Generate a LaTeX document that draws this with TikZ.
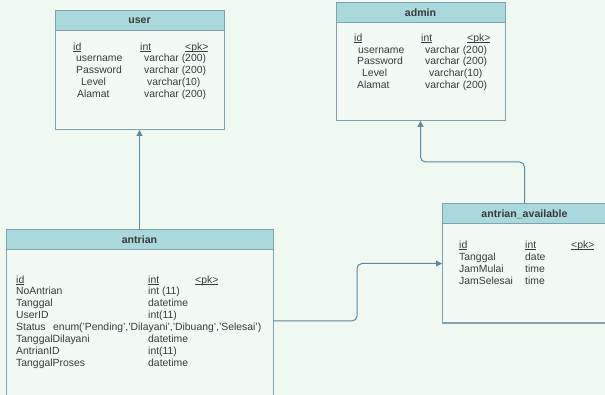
\documentclass[tikz,border=0pt]{standalone}
\usepackage{fontspec}
\setmainfont{Liberation Sans}
\usetikzlibrary{arrows.meta}
\definecolor{bg}{HTML}{EFF8F1}
\definecolor{headfill}{HTML}{A9D9DC}
\definecolor{bodyfill}{HTML}{F3FAF5}
\definecolor{edgecol}{HTML}{7FA2AC}
\definecolor{linkcol}{HTML}{5A8AA2}
\definecolor{ink}{HTML}{3A3A3A}
% key underline drawn close to the baseline
\newcommand{\keyul}[1]{{\setbox0\hbox{#1}\rlap{\rule[-1.3pt]{\wd0}{0.5pt}}\box0}}
\begin{document}
\begin{tikzpicture}[x=1pt,y=-1pt,
  entity/.style={draw=edgecol, fill=bodyfill, line width=1pt, anchor=north west,
    inner sep=0pt, outer sep=0pt},
  head/.style={draw=edgecol, fill=headfill, line width=1pt, anchor=north west,
    inner sep=0pt, outer sep=0pt, minimum height=20pt,
    font=\fontsize{10.6}{12}\selectfont\bfseries, text=ink},
  fld/.style={anchor=base west, inner sep=0pt, font=\fontsize{10.4}{12}\selectfont, text=ink},
  rel/.style={draw=linkcol, line width=1pt, rounded corners=5pt,
    -{Triangle[length=6pt,width=6pt]}}]
\useasboundingbox (0,0) rectangle (605,395);
\fill[bg] (0,0) rectangle (605,395);
\clip (0,0) rectangle (605,395);

% ---------- user ----------
\node[entity, minimum width=169pt, minimum height=119pt] (user) at (55,11) {};
\node[head, minimum width=169pt] (userH) at (55,11) {user};
\node[fld] (u1a) at (73,50.5) {\keyul{id}};
\node[fld] (u1b) at (140,50.5) {\keyul{int}};
\node[fld] (u1c) at (185,50.5) {\keyul{<pk>}};
\node[fld] (u2a) at (76,61.5) {username};
\node[fld] (u2b) at (144,61.5) {varchar (200)};
\node[fld] (u3a) at (76,73.5) {Password};
\node[fld] (u3b) at (144,73.5) {varchar (200)};
\node[fld] (u4a) at (81,85.5) {Level};
\node[fld] (u4b) at (147,85.5) {varchar(10)};
\node[fld] (u5a) at (77,97.5) {Alamat};
\node[fld] (u5b) at (144,97.5) {varchar (200)};

% ---------- admin ----------
\node[entity, minimum width=169pt, minimum height=118pt] (admin) at (336,3) {};
\node[head, minimum width=169pt] (adminH) at (336,3) {admin};
\node[fld] (a1a) at (354,41.5) {\keyul{id}};
\node[fld] (a1b) at (421,41.5) {\keyul{int}};
\node[fld] (a1c) at (467,41.5) {\keyul{<pk>}};
\node[fld] (a2a) at (358,53.5) {username};
\node[fld] (a2b) at (425,53.5) {varchar (200)};
\node[fld] (a3a) at (357,64.5) {Password};
\node[fld] (a3b) at (425,64.5) {varchar (200)};
\node[fld] (a4a) at (362,76.5) {Level};
\node[fld] (a4b) at (429,76.5) {varchar(10)};
\node[fld] (a5a) at (357,88.5) {Alamat};
\node[fld] (a5b) at (425,88.5) {varchar (200)};

% ---------- antrian ----------
\node[entity, minimum width=267pt, minimum height=182pt] (antrian) at (6,230) {};
\node[head, minimum width=267pt] (antrianH) at (6,230) {antrian};
\node[fld] (t1a) at (16,283.5) {\keyul{id}};
\node[fld] (t1b) at (148,283.5) {\keyul{int}};
\node[fld] (t1c) at (195,283.5) {\keyul{<pk>}};
\node[fld] (t2a) at (16,294.5) {NoAntrian};
\node[fld] (t2b) at (148,294.5) {int (11)};
\node[fld] (t3a) at (16,306.5) {Tanggal};
\node[fld] (t3b) at (148,306.5) {datetime};
\node[fld] (t4a) at (16,318.5) {UserID};
\node[fld] (t4b) at (148,318.5) {int(11)};
\node[fld] (t5a) at (16,330.5) {Status};
\node[fld] (t5b) at (53,330.5) {enum('Pending','Dilayani','Dibuang','Selesai')};
\node[fld] (t6a) at (16,342.5) {TanggalDilayani};
\node[fld] (t6b) at (148,342.5) {datetime};
\node[fld] (t7a) at (16,354.5) {AntrianID};
\node[fld] (t7b) at (148,354.5) {int(11)};
\node[fld] (t8a) at (16,366.5) {TanggalProses};
\node[fld] (t8b) at (148,366.5) {datetime};

% ---------- antrian_available ----------
\node[entity, minimum width=165pt, minimum height=119pt] (avail) at (442,204) {};
\node[head, minimum width=165pt] (availH) at (442,204) {antrian\_available};
\node[fld] (v1a) at (459,248.5) {\keyul{id}};
\node[fld] (v1b) at (525,248.5) {\keyul{int}};
\node[fld] (v1c) at (571,248.5) {\keyul{<pk>}};
\node[fld] (v2a) at (459,260.5) {Tanggal};
\node[fld] (v2b) at (525,260.5) {date};
\node[fld] (v3a) at (459,272.5) {JamMulai};
\node[fld] (v3b) at (525,272.5) {time};
\node[fld] (v4a) at (459,284.5) {JamSelesai};
\node[fld] (v4b) at (525,284.5) {time};

% ---------- relations ----------
\draw[rel] (antrian.north) -- (user.south);
\draw[rel] (avail.north) -- ++(0,-42) -| (admin.south);
\draw[rel] (antrian.east) -- ++(84,0) |- (avail.west);
\end{tikzpicture}
\end{document}
